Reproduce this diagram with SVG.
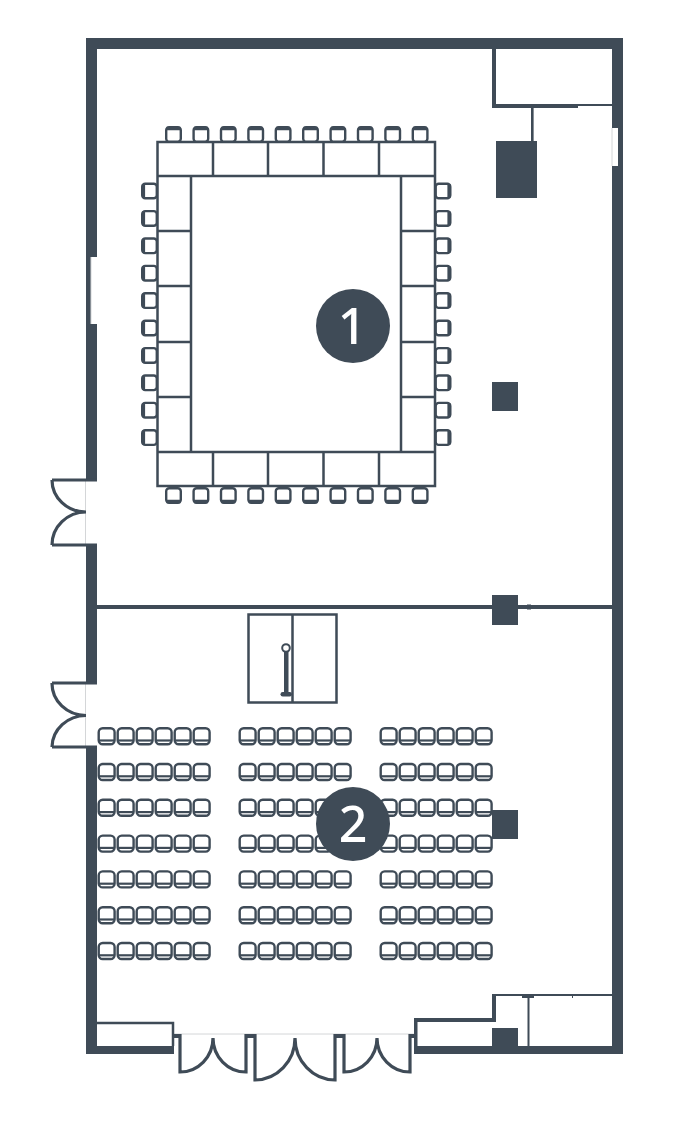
<svg xmlns="http://www.w3.org/2000/svg" width="700" height="1140" viewBox="0 0 700 1140">
<style>
.w{fill:#3f4b57}
.l{fill:none;stroke:#3f4b57;stroke-width:2.5}
.d{fill:none;stroke:#3f4b57;stroke-width:3.200}
.g{fill:none;stroke:#d4d6d8;stroke-width:1}
.n{fill:#3f4b57}
.t{fill:#fff;font-family:"Noto Sans","Open Sans",sans-serif;font-size:50px;font-weight:500;text-anchor:middle}
</style>
<defs>
<g id="seat"><rect x="1.200" y="1.200" width="15.900" height="16" rx="4" fill="#fff" stroke="#3f4b57" stroke-width="2.400"/><path d="M1 13.500H17.300" stroke="#3f4b57" stroke-width="2.200"/></g>
<g id="row"><use href="#seat" x="0"/><use href="#seat" x="19"/><use href="#seat" x="38"/><use href="#seat" x="57"/><use href="#seat" x="76"/><use href="#seat" x="95"/></g>
<g id="block"><use href="#row" y="0"/><use href="#row" y="35.800"/><use href="#row" y="71.600"/><use href="#row" y="107.400"/><use href="#row" y="143.200"/><use href="#row" y="179"/><use href="#row" y="214.800"/></g>
<g id="ct"><rect x="1.200" y="1.200" width="14.600" height="14.600" rx="3" fill="#fff" stroke="#3f4b57" stroke-width="2.400"/><path d="M1.500 2.500H15.500" stroke="#3f4b57" stroke-width="3.500"/></g>
<g id="cl"><rect x="1.200" y="1.200" width="14.600" height="14.600" rx="3" fill="#fff" stroke="#3f4b57" stroke-width="2.400"/><path d="M2.500 1.500V15.500" stroke="#3f4b57" stroke-width="3.200"/></g>
<g id="cb"><rect x="1.200" y="1.200" width="14.600" height="14.600" rx="3" fill="#fff" stroke="#3f4b57" stroke-width="2.400"/><path d="M1.500 14.500H15.500" stroke="#3f4b57" stroke-width="3.500"/></g>
<g id="cr"><rect x="1.200" y="1.200" width="14.600" height="14.600" rx="3" fill="#fff" stroke="#3f4b57" stroke-width="2.400"/><path d="M14.500 1.500V15.500" stroke="#3f4b57" stroke-width="3.200"/></g>
<g id="rowT"><use href="#ct" x="0"/><use href="#ct" x="27.400"/><use href="#ct" x="54.800"/><use href="#ct" x="82.200"/><use href="#ct" x="109.600"/><use href="#ct" x="137"/><use href="#ct" x="164.400"/><use href="#ct" x="191.800"/><use href="#ct" x="219.200"/><use href="#ct" x="246.600"/></g>
<g id="rowB"><use href="#cb" x="0"/><use href="#cb" x="27.400"/><use href="#cb" x="54.800"/><use href="#cb" x="82.200"/><use href="#cb" x="109.600"/><use href="#cb" x="137"/><use href="#cb" x="164.400"/><use href="#cb" x="191.800"/><use href="#cb" x="219.200"/><use href="#cb" x="246.600"/></g>
<g id="colL"><use href="#cl" y="0"/><use href="#cl" y="27.400"/><use href="#cl" y="54.800"/><use href="#cl" y="82.200"/><use href="#cl" y="109.600"/><use href="#cl" y="137"/><use href="#cl" y="164.400"/><use href="#cl" y="191.800"/><use href="#cl" y="219.200"/><use href="#cl" y="246.600"/></g>
<g id="colR"><use href="#cr" y="0"/><use href="#cr" y="27.400"/><use href="#cr" y="54.800"/><use href="#cr" y="82.200"/><use href="#cr" y="109.600"/><use href="#cr" y="137"/><use href="#cr" y="164.400"/><use href="#cr" y="191.800"/><use href="#cr" y="219.200"/><use href="#cr" y="246.600"/></g>
</defs>
<rect width="700" height="1140" fill="#fff"/>
<g id="walls">
<rect class="w" x="86" y="38" width="537" height="11"/>
<rect class="w" x="612" y="38" width="11" height="1016"/>
<rect class="w" x="86" y="38" width="11" height="442"/>
<rect class="w" x="86" y="545" width="11" height="138"/>
<rect class="w" x="86" y="746" width="11" height="308"/>
<rect class="w" x="86" y="1046" width="88" height="8"/>
<rect class="w" x="414" y="1046" width="209" height="8"/>
<rect x="91" y="257" width="6" height="67" fill="#fff"/>
<rect x="612" y="128" width="6" height="38" fill="#fff"/>
<path class="g" d="M91 257V324M612 128V166M85.500 480V545M85.500 683V747M173 1034H414M533.500 108V141"/>
<rect class="w" x="97" y="605" width="515" height="4"/>
<rect class="w" x="527" y="604.500" width="4" height="5"/>
<rect class="w" x="492" y="49" width="4" height="59"/>
<rect class="w" x="492" y="104" width="86" height="4"/>
<rect class="w" x="578" y="104" width="34" height="2"/>
<rect class="w" x="531" y="106" width="2.500" height="35"/>
<rect class="w" x="496" y="141" width="41" height="57"/>
<rect class="w" x="492" y="382" width="26" height="29"/>
<rect class="w" x="492" y="595" width="26" height="30"/>
<rect class="w" x="492" y="810" width="26" height="29"/>
<rect class="w" x="492" y="1028" width="26" height="26"/>
<path class="l" d="M97 1023H173V1046"/>
<rect class="w" x="414" y="1018" width="80" height="4"/>
<rect class="w" x="414" y="1018" width="3.500" height="36"/>
<rect class="w" x="492" y="994" width="4" height="28"/>
<rect class="w" x="494" y="994" width="118" height="2"/>
<rect class="w" x="522" y="995" width="12" height="3"/>
<rect class="w" x="527.500" y="996" width="2" height="50"/>
<rect class="w" x="572" y="994" width="1" height="4"/>
<rect class="w" x="173" y="1034" width="7" height="4"/>
<rect class="w" x="246" y="1034" width="9" height="4"/>
<rect class="w" x="335" y="1034" width="9" height="4"/>
<rect class="w" x="410" y="1034" width="4" height="4"/>
</g>
<g id="doors">
<path class="d" d="M52 480H97M52 545H97M52 683H97M52 747H97"/>
<path class="d" d="M52 480A34 32 0 0 0 86 512M52 545A34 33 0 0 1 86 512M52 683A34 32 0 0 0 86 715.500M52 747A34 32 0 0 1 86 715.500"/>
<path class="d" d="M180 1034V1072A33 34 0 0 0 213 1038A33 34 0 0 0 246 1072V1034"/>
<path class="d" d="M255 1034V1080A40 42 0 0 0 295 1038A40 42 0 0 0 335 1080V1034"/>
<path class="d" d="M344 1034V1072A33 34 0 0 0 377 1038A33 34 0 0 0 410 1072V1034"/>
</g>
<g id="tables">
<path class="l" d="M157.500 142H435V486H157.500ZM157.500 176H435M157.500 452H435M191 176V452M401 176V452M213 142V176M268 142V176M323.500 142V176M379 142V176M213 452V486M268 452V486M323.500 452V486M379 452V486M157.500 231H191M157.500 286H191M157.500 342H191M157.500 397H191M401 231H435M401 286H435M401 342H435M401 397H435"/>
<use href="#rowT" x="165" y="126"/>
<use href="#rowB" x="165" y="487"/>
<use href="#colL" x="141" y="182.500"/>
<use href="#colR" x="434.500" y="182.500"/>
</g>
<g id="stage">
<path class="l" d="M248.500 614.500H336.500V702.500H248.500ZM292.500 614.500V702.500"/>
<rect class="w" x="284" y="651" width="4.500" height="43"/>
<rect class="w" x="280.500" y="692" width="11.500" height="4.500" rx="2.200"/>
<circle cx="286" cy="648" r="3.800" fill="#fff" stroke="#3f4b57" stroke-width="2"/>
</g>
<g id="seats">
<use href="#block" x="97.500" y="727"/>
<use href="#block" x="238.500" y="727"/>
<use href="#block" x="379.500" y="727"/>
</g>
<g id="room-1"><circle class="n" cx="353" cy="326" r="37"/><text class="t" x="352" y="344">1</text></g>
<g id="room-2"><circle class="n" cx="353" cy="824" r="37"/><text class="t" x="353" y="842">2</text></g>
</svg>
